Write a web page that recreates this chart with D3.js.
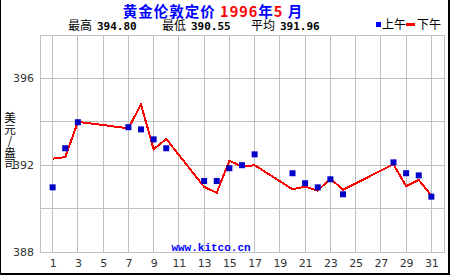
<!doctype html>
<html>
<head>
  <meta charset="utf-8">
  <script src="https://cdnjs.cloudflare.com/ajax/libs/d3/7.8.5/d3.min.js"></script>
  <style>
    body { margin: 0; background: #fff; }
    svg { display: block; }
    .cjk { font-family: "Noto Sans CJK SC", sans-serif; }
    .tick text { font-family: "DejaVu Sans", sans-serif; font-size: 11px; fill: #333; }
  </style>
</head>
<body>
<svg id="chart" width="450" height="275"></svg>
<script>
  // gold price, London fix, May 1996
  var amDays = [1, 2, 3, 7, 8, 9, 10, 13, 14, 15, 16, 17, 20, 21, 22, 23, 24, 28, 29, 30, 31];
  var amPrice = [390.98, 392.78, 393.98, 393.75, 393.65, 393.19, 392.78, 391.27, 391.27, 391.86, 392.00,
                 392.50, 391.63, 391.17, 390.98, 391.35, 390.66, 392.13, 391.63, 391.53, 390.55];
  var pmDays = [1, 2, 3, 7, 8, 9, 10, 13, 14, 15, 16, 17, 20, 21, 22, 23, 24, 28, 29, 30, 31];
  var pmPrice = [392.30, 392.37, 394.00, 393.70, 394.80, 392.73, 393.21, 391.00, 390.73, 392.21, 391.93,
                 392.00, 390.89, 391.01, 390.83, 391.38, 390.87, 392.04, 391.03, 391.32, 390.60];
  var xTicks = [1, 3, 5, 7, 9, 11, 13, 15, 17, 19, 21, 23, 25, 27, 29, 31];
  var yTicks = [388, 392, 396];
  var yGrid = [390, 392, 394, 396];
  var statLabels = ["最高", "最低", "平均"];
  var statValues = ["394.80", "390.55", "391.96"];

  var svg = d3.select("#chart");
  var x = d3.scaleLinear().domain([0, 32]).range([40, 444]);
  var y = d3.scaleLinear().domain([388, 398]).range([252, 35]);

  // frame
  svg.append("line").attr("x1", 0.5).attr("x2", 0.5).attr("y1", 0).attr("y2", 275)
    .attr("stroke", "#000");
  svg.append("line").attr("x1", 449).attr("x2", 449).attr("y1", 0).attr("y2", 275)
    .attr("stroke", "#000").attr("stroke-width", 2);
  svg.append("line").attr("x1", 0).attr("x2", 450).attr("y1", 274).attr("y2", 274)
    .attr("stroke", "#000").attr("stroke-width", 2);

  // grid
  var grid = svg.append("g").attr("stroke", "#c0c0c0").attr("shape-rendering", "crispEdges");
  grid.selectAll(".v").data(xTicks).enter().append("line")
    .attr("x1", d => x(d)).attr("x2", d => x(d)).attr("y1", y(398)).attr("y2", y(388));
  grid.selectAll(".h").data(yGrid).enter().append("line")
    .attr("x1", x(0)).attr("x2", x(32)).attr("y1", d => y(d)).attr("y2", d => y(d));
  grid.append("rect").attr("x", x(0)).attr("y", y(398))
    .attr("width", x(32) - x(0)).attr("height", y(388) - y(398)).attr("fill", "none");

  // axes
  var xAxis = svg.append("g").attr("transform", "translate(0," + y(388) + ")")
    .call(d3.axisBottom(x).tickValues(xTicks).tickSize(0).tickPadding(7));
  xAxis.select(".domain").remove();
  var yAxis = svg.append("g").attr("transform", "translate(" + x(0) + ",0)")
    .call(d3.axisLeft(y).tickValues(yTicks).tickSize(0).tickPadding(6));
  yAxis.select(".domain").remove();

  // afternoon line
  var line = d3.line().x(d => x(d[0])).y(d => y(d[1]));
  svg.append("path")
    .datum(d3.zip(pmDays, pmPrice))
    .attr("d", line)
    .attr("fill", "none")
    .attr("stroke", "#ff0000")
    .attr("stroke-width", 2)
    .attr("shape-rendering", "crispEdges");

  // morning points
  svg.selectAll(".am").data(d3.zip(amDays, amPrice)).enter().append("rect")
    .attr("x", d => x(d[0]) - 3)
    .attr("y", d => y(d[1]) - 3)
    .attr("width", 6).attr("height", 6)
    .attr("fill", "#0000c8");

  // title
  var title = svg.append("text").attr("class", "cjk")
    .attr("x", 213).attr("y", 17).attr("text-anchor", "middle")
    .attr("font-size", 14.5).attr("font-weight", "bold").attr("letter-spacing", 1);
  title.append("tspan").attr("fill", "#0000ff").text("黄金伦敦定价 ");
  title.append("tspan").attr("fill", "#ff0000").text("1996");
  title.append("tspan").attr("fill", "#0000ff").text("年");
  title.append("tspan").attr("fill", "#ff0000").text("5");
  title.append("tspan").attr("fill", "#0000ff").text(" 月");

  // stats line
  var statX = [68, 162, 251];
  statLabels.forEach(function(s, i) {
    svg.append("text").attr("class", "cjk").attr("x", statX[i]).attr("y", 29.5)
      .attr("font-size", 12).text(s);
    svg.append("text").attr("x", statX[i] + 29).attr("y", 29.5)
      .attr("font-family", "'DejaVu Sans Mono', monospace").attr("font-weight", "bold")
      .attr("font-size", 11).text(statValues[i]);
  });

  // legend
  svg.append("rect").attr("x", 376).attr("y", 22).attr("width", 5).attr("height", 5).attr("fill", "#0000ff");
  svg.append("text").attr("class", "cjk").attr("x", 382).attr("y", 29).attr("font-size", 12).text("上午");
  svg.append("rect").attr("x", 406).attr("y", 23).attr("width", 9).attr("height", 3).attr("fill", "#ff0000");
  svg.append("text").attr("class", "cjk").attr("x", 417).attr("y", 29).attr("font-size", 12).text("下午");

  // y label, vertical
  svg.append("text").attr("class", "cjk")
    .attr("x", 10).attr("y", 112)
    .style("writing-mode", "vertical-rl").style("text-orientation", "upright")
    .attr("font-size", 11.5).attr("fill", "#000")
    .text("美元/盎司");

  // site
  svg.append("text").attr("x", 211).attr("y", 251).attr("text-anchor", "middle")
    .attr("font-family", "'Liberation Mono', monospace").attr("font-weight", "bold")
    .attr("font-size", 11).attr("fill", "#0000ff").text("www.kitco.cn");
</script>
</body>
</html>
